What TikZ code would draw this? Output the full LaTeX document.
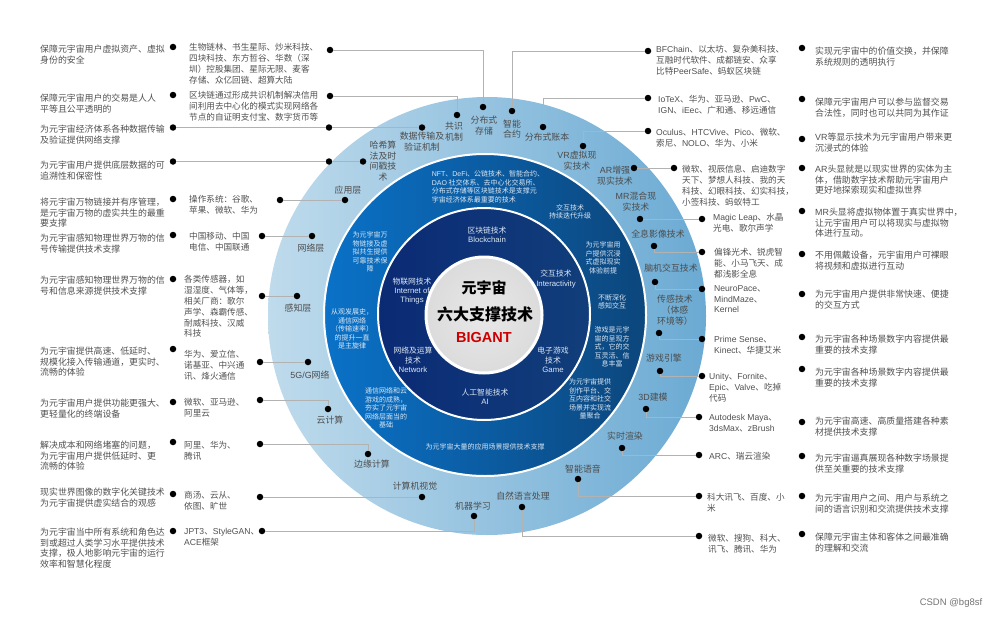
\documentclass[tikz,border=0pt]{standalone}
\usepackage{fontspec}
\usepackage{xcolor}
\setmainfont{Noto Sans CJK SC}
\newfontfamily\latfont{Liberation Sans}
\newcommand{\lat}[1]{{\latfont #1}}
\definecolor{ringlight}{HTML}{BFDBEC}
\definecolor{ringdark}{HTML}{6BAAD3}
\definecolor{midlight}{HTML}{0A72C8}
\definecolor{middark}{HTML}{0C467C}
\definecolor{innerlight}{HTML}{0B2A74}
\definecolor{innerdark}{HTML}{113E7B}
\definecolor{bodygray}{HTML}{505050}
\definecolor{paleblue}{HTML}{DCE8F4}
\tikzset{
  dot/.style={circle,fill=black,inner sep=0pt,minimum size=6.5pt},
  link/.style={draw=black!30,line width=0.9pt},
  desc/.style={anchor=north west,inner sep=0pt,yshift=-1.5pt,align=left,text=bodygray,font=\fontsize{8.9}{10.8}\selectfont},
  comp/.style={anchor=north west,inner sep=0pt,yshift=-1pt,align=left,text=bodygray,font=\fontsize{8.6}{10.9}\selectfont},
  tech/.style={inner sep=0pt,align=center,text=black!70,font=\fontsize{8.9}{10.8}\selectfont},
  note/.style={inner sep=0pt,align=center,text=paleblue,font=\fontsize{7}{8.6}\selectfont},
  core/.style={inner sep=0pt,align=center,text=paleblue,font=\fontsize{7.8}{9.4}\selectfont},
}
\begin{document}
\begin{tikzpicture}[x=1pt,y=-1pt]
  \useasboundingbox (0,0) rectangle (1000,618);
  % rings
  \shade[left color=ringlight,right color=ringdark] (487,316) circle (219);
  \shadedraw[left color=midlight,right color=middark,draw=white,line width=2pt] (485,315) circle (161);
  \shadedraw[left color=innerlight,right color=innerdark,draw=white,line width=2pt] (484,314) circle (106);
  \shadedraw[inner color=black!9,outer color=black!14,draw=white,line width=3pt] (484,315) circle (58);
  \node[inner sep=0pt,font=\fontsize{15}{18}\bfseries\selectfont] (hubA) at (484,288) {元宇宙};
  \node[inner sep=0pt,font=\fontsize{16}{18}\bfseries\selectfont] (hubB) at (485,314) {六大支撑技术};
  \node[inner sep=0pt,text=red!80!black,font=\fontsize{14.5}{18}\latfont\bfseries\selectfont] (hubC) at (484,338) {BIGANT};
  % dots
  \foreach \name/\px/\py in {ldA/173/47,ldB/173/95,ldC/173/127.5,ldD/173/161.5,ldE/173/199,ldF/173/235,ldG/173/279,ldH/173/349,ldI/173/402,ldJ/173/442,ldK/173/494,ldL/173/531,
    cdA/330/50,cdB/330/96,cdC/329/127.5,cdD/329/161.5,cdE/280/200,cdF/262/236,cdG/262/296,cdH/260/362,cdI/260/400,cdJ/260/444,cdK/260/497,cdL/262/531,
    ptStorage/483/107,ptConsensus/457/115,ptData/422/127.5,ptHash/363/161.5,ptApp/345/200,ptNet/312/236,ptSense/297/296,ptFive/308/362,ptCloud/328/409,ptEdge/368/454,ptVision/422/497,ptLearn/474/516,
    ptContract/512/111,ptLedger/543/127,ptVR/583/146,ptAR/634/168,ptMR/640/219,ptHolo/654/246,ptBrain/655/282,ptTouch/659/333,ptEngine/660/371,ptModel/646/409,ptRender/622/448,ptVoice/578/479,ptNLP/522/507,
    crA/648/51,crB/648/98,crC/648/131,crD/674/168,crE/702/219,crF/702/252,crG/702/289,crH/702/339,crI/702/376,crJ/699/417,crK/699/455,crL/699/496,crM/699/536,
    rdA/802/48,rdB/802/99,rdC/802/139,rdD/802/168,rdE/802/211,rdF/802/254,rdG/802/294,rdH/802/337,rdI/802/369,rdJ/802/422,rdK/802/456,rdL/802/496,rdM/802/534}
    \node[dot] (\name) at (\px,\py) {};
  % left connectors
  \draw[link] (cdA) -| (ptStorage);
  \draw[link] (cdB) -| (ptConsensus);
  \draw[link] (ldC) -- (cdC) -- (ptData);
  \draw[link] (ldD) -- (cdD) -- (ptHash);
  \draw[link] (cdE) -- (ptApp);
  \draw[link] (cdF) -- (ptNet);
  \draw[link] (cdG) -- (ptSense);
  \draw[link] (cdH) -- (ptFive);
  \draw[link] (cdI) -| (ptCloud);
  \draw[link] (cdJ) -| (ptEdge);
  \draw[link] (cdK) -- (ptVision);
  \draw[link] (cdL) -| (ptLearn);
  % right connectors
  \draw[link] (ptContract) |- (crA);
  \draw[link] (ptLedger) |- (crB);
  \draw[link] (ptVR) |- (crC);
  \draw[link] (ptAR) -- (crD);
  \draw[link] (ptMR) -- (crE);
  \draw[link] (ptHolo) |- (crF);
  \draw[link] (ptBrain) |- (crG);
  \draw[link] (ptTouch) |- (crH);
  \draw[link] (ptEngine) |- (crI);
  \draw[link] (ptModel) |- (crJ);
  \draw[link] (ptRender) |- (crK);
  \draw[link] (ptVoice) |- (crL);
  \draw[link] (ptNLP) |- (crM);
  % left column
  \node[desc] (descA) at (40,43) {保障元宇宙用户虚拟资产、虚拟\\身份的安全};
  \node[desc] (descB) at (40,92) {保障元宇宙用户的交易是人人\\平等且公平透明的};
  \node[desc] (descC) at (40,123) {为元宇宙经济体系各种数据传输\\及验证提供网络支撑};
  \node[desc] (descD) at (40,159) {为元宇宙用户提供底层数据的可\\追溯性和保密性};
  \node[desc] (descE) at (40,196) {将元宇宙万物链接并有序管理，\\是元宇宙万物的虚实共生的最重\\要支撑};
  \node[desc] (descF) at (40,232) {为元宇宙感知物理世界万物的信\\号传输提供技术支撑};
  \node[desc] (descG) at (40,274) {为元宇宙感知物理世界万物的信\\号和信息来源提供技术支撑};
  \node[desc] (descH) at (40,345) {为元宇宙提供高速、低延时、\\规模化接入传输通道，更实时、\\流畅的体验};
  \node[desc] (descI) at (40,397) {为元宇宙用户提供功能更强大、\\更轻量化的终端设备};
  \node[desc] (descJ) at (40,439) {解决成本和网络堵塞的问题，\\为元宇宙用户提供低延时、更\\流畅的体验};
  \node[desc] (descK) at (40,486) {现实世界图像的数字化关键技术\\为元宇宙提供虚实结合的观感};
  \node[desc] (descL) at (40,526) {为元宇宙当中所有系统和角色达\\到或超过人类学习水平提供技术\\支撑，极人地影响元宇宙的运行\\效率和智慧化程度};
  % left companies
  \node[comp] (compA) at (189,42) {生物链林、书生星际、炒米科技、\\四块科技、东方哲谷、华数（深\\圳）控股集团、星际无限、麦客\\存储、众亿回链、超算大陆};
  \node[comp] (compB) at (189,90) {区块链通过形成共识机制解决信用\\间利用去中心化的模式实现网络各\\节点的自证明支付宝、数字货币等};
  \node[comp] (compE) at (189,194) {操作系统：谷歌、\\苹果、微软、华为};
  \node[comp] (compF) at (189,231) {中国移动、中国\\电信、中国联通};
  \node[comp] (compG) at (184,274) {各类传感器，如\\湿湿度、气体等，\\相关厂商：歌尔\\声学、森霸传感、\\耐威科技、汉威\\科技};
  \node[comp] (compH) at (184,349) {华为、爱立信、\\诺基亚、中兴通\\讯、烽火通信};
  \node[comp] (compI) at (184,397) {微软、亚马逊、\\阿里云};
  \node[comp] (compJ) at (184,440) {阿里、华为、\\腾讯};
  \node[comp] (compK) at (184,490) {商汤、云从、\\依图、旷世};
  \node[comp] (compL) at (184,527) {\lat{JPT3}、\lat{StyleGAN}、\\\lat{ACE}框架};
  % right companies
  \node[comp] (compM) at (656,44) {\lat{BFChain}、以太坊、复杂美科技、\\互融时代软件、成都链安、众享\\比特\lat{PeerSafe}、蚂蚁区块链};
  \node[comp] (compN) at (658,94) {\lat{IoTeX}、华为、亚马逊、\lat{PwC}、\\\lat{IGN}、\lat{iEec}、广和通、移远通信};
  \node[comp] (compO) at (656,127) {\lat{Oculus}、\lat{HTCVive}、\lat{Pico}、微软、\\索尼、\lat{NOLO}、华为、小米};
  \node[comp] (compP) at (682,164) {微软、视辰信息、启迪数字\\天下、梦想人科技、我的天\\科技、幻眼科技、幻实科技，\\小签科技、蚂蚁特工};
  \node[comp] (compQ) at (713,212) {\lat{Magic Leap}、水晶\\光电、歌尔声学};
  \node[comp] (compR) at (714,247) {偏锋光术、锐虎智\\能、小马飞天、成\\都浅影全息};
  \node[comp] (compS) at (714,284) {\lat{NeuroPace}、\\\lat{MindMaze}、\\\lat{Kernel}};
  \node[comp] (compT) at (714,335) {\lat{Prime Sense}、\\\lat{Kinect}、华捷艾米};
  \node[comp] (compU) at (709,372) {\lat{Unity}、\lat{Fornite}、\\\lat{Epic}、\lat{Valve}、吃掉\\代码};
  \node[comp] (compV) at (709,413) {\lat{Autodesk Maya}、\\\lat{3dsMax}、\lat{zBrush}};
  \node[comp] (compW) at (709,451) {\lat{ARC}、瑞云渲染};
  \node[comp] (compX) at (707,492) {科大讯飞、百度、小\\米};
  \node[comp] (compY) at (708,533) {微软、搜狗、科大、\\讯飞、腾讯、华为};
  % right column
  \node[desc] (descM) at (815,45) {实现元宇宙中的价值交换，并保障\\系统规则的透明执行};
  \node[desc] (descN) at (815,96) {保障元宇宙用户可以参与监督交易\\合法性，同时也可以共同为其作证};
  \node[desc] (descO) at (815,131) {\lat{VR}等显示技术为元宇宙用户带来更\\沉浸式的体验};
  \node[desc] (descP) at (815,163) {\lat{AR}头显就是以现实世界的实体为主\\体，借助数字技术帮助元宇宙用户\\更好地探索现实和虚拟世界};
  \node[desc] (descQ) at (815,206) {\lat{MR}头显将虚拟物体置于真实世界中，\\让元宇宙用户可以将现实与虚拟物\\体进行互动。};
  \node[desc] (descR) at (815,249) {不用佩戴设备，元宇宙用户可裸眼\\将视频和虚拟进行互动};
  \node[desc] (descS) at (815,288) {为元宇宙用户提供非常快速、便捷\\的交互方式};
  \node[desc] (descT) at (815,333) {为元宇宙各种场景数字内容提供最\\重要的技术支撑};
  \node[desc] (descU) at (815,366) {为元宇宙各种场景数字内容提供最\\重要的技术支撑};
  \node[desc] (descV) at (815,415) {为元宇宙高速、高质量搭建各种素\\材提供技术支撑};
  \node[desc] (descW) at (815,452) {为元宇宙逼真展现各种数字场景提\\供至关重要的技术支撑};
  \node[desc] (descX) at (815,492) {为元宇宙用户之间、用户与系统之\\间的语言识别和交流提供技术支撑};
  \node[desc] (descY) at (815,531) {保障元宇宙主体和客体之间最准确\\的理解和交流};
  % outer ring labels
  \node[tech] (techA) at (484,126) {分布式\\存储};
  \node[tech] (techB) at (454,132) {共识\\机制};
  \node[tech] (techC) at (422,142) {数据传输及\\验证机制};
  \node[tech] (techD) at (383,161) {哈希算\\法及时\\间戳技\\术};
  \node[tech] (techE) at (348,190) {应用层};
  \node[tech] (techF) at (311,248) {网络层};
  \node[tech] (techG) at (298,308) {感知层};
  \node[tech] (techH) at (310,375) {\lat{5G/G}网络};
  \node[tech] (techI) at (330,420) {云计算};
  \node[tech] (techJ) at (372,464) {边缘计算};
  \node[tech] (techK) at (415,486) {计算机视觉};
  \node[tech] (techL) at (473,506) {机器学习};
  \node[tech] (techM) at (512,129) {智能\\合约};
  \node[tech] (techN) at (547,137) {分布式账本};
  \node[tech] (techO) at (577,161) {\lat{VR}虚拟现\\实技术};
  \node[tech] (techP) at (615,176) {\lat{AR}增强\\现实技术};
  \node[tech] (techQ) at (636,202) {\lat{MR}混合现\\实技术};
  \node[tech] (techR) at (658,234) {全息影像技术};
  \node[tech] (techS) at (671,268) {脑机交互技术};
  \node[tech] (techT) at (675,310) {传感技术\\（体感\\环境等）};
  \node[tech] (techU) at (664,358) {游戏引擎};
  \node[tech] (techV) at (653,397) {\lat{3D}建模};
  \node[tech] (techW) at (625,436) {实时渲染};
  \node[tech] (techX) at (583,469) {智能语音};
  \node[tech] (techY) at (523,496) {自然语言处理};
  % middle ring notes
  \node[note,align=left] (noteA) at (488,187) {\lat{NFT}、\lat{DeFi}、公链技术、智能合约、\\\lat{DAO} 社交体系、去中心化交易所、\\分布式存储等区块链技术是支撑元\\宇宙经济体系最重要的技术};
  \node[note] (noteB) at (570,212) {交互技术\\持续迭代升级};
  \node[note] (noteC) at (603,258) {为元宇宙用\\户提供沉浸\\式虚拟现实\\体验前提};
  \node[note] (noteD) at (612,302) {不断深化\\感知交互};
  \node[note] (noteE) at (612,347) {游戏是元宇\\宙的呈现方\\式，它的交\\互灵活、信\\息丰富};
  \node[note] (noteF) at (590,399) {为元宇宙提供\\创作平台、交\\互内容和社交\\场景并实现流\\量聚合};
  \node[note] (noteG) at (485,447) {为元宇宙大量的应用场景提供技术支撑};
  \node[note] (noteH) at (386,408) {通信网络和云\\游戏的成熟，\\夯实了元宇宙\\网络层面当的\\基础};
  \node[note] (noteI) at (352,329) {从观发展史，\\通信网络\\（传输速率）\\的提升一直\\是主旋律};
  \node[note] (noteJ) at (370,252) {为元宇宙万\\物链接及虚\\拟共生提供\\可靠技术保\\障};
  % inner ring names
  \node[core] (coreA) at (487,235) {区块链技术\\\lat{Blockchain}};
  \node[core] (coreB) at (556,279) {交互技术\\\lat{Interactivity}};
  \node[core] (coreC) at (553,360) {电子游戏\\技术\\\lat{Game}};
  \node[core] (coreD) at (485,397) {人工智能技术\\\lat{AI}};
  \node[core] (coreE) at (413,360) {网络及运算\\技术\\\lat{Network}};
  \node[core] (coreF) at (412,291) {物联网技术\\\lat{Internet of}\\\lat{Things}};
  % watermark
  \node[inner sep=0pt,text=black!55,font=\fontsize{9.5}{11}\selectfont] (mark) at (951,603) {\lat{CSDN @bg8sf}};
\end{tikzpicture}
\end{document}
